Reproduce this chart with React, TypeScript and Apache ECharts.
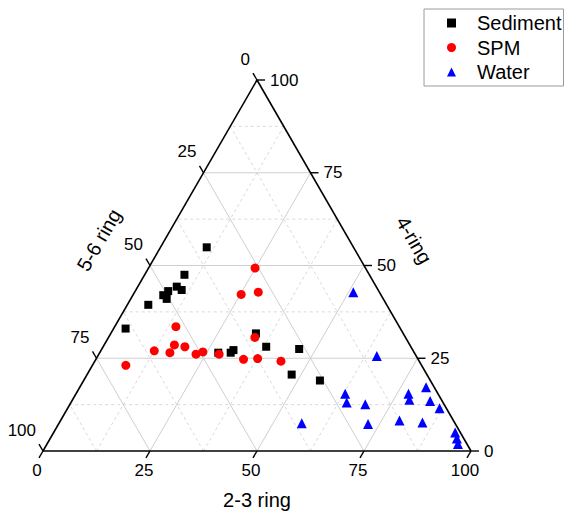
import React, { useEffect, useRef } from "react";
import * as echarts from "echarts";

// Ternary values: [2-3 ring, 4-ring, 5-6 ring] in %
const sediment: number[][] = [
  [10.8, 54.9, 34.3], [9.3, 47.5, 43.2], [9.1, 44.3, 46.6], [10.7, 43.4, 45.9],
  [7.7, 43.1, 49.2], [7.1, 42.0, 50.9], [8.4, 41.0, 50.6], [4.9, 39.4, 55.7],
  [2.8, 33.0, 64.2], [27.7, 26.5, 45.8], [30.6, 26.5, 42.9], [30.9, 27.2, 41.9],
  [33.9, 31.7, 34.4], [38.1, 28.1, 33.8], [46.1, 27.5, 26.4], [47.8, 20.6, 31.6],
  [55.2, 19.0, 25.8],
];
const spm: number[][] = [
  [24.9, 49.3, 25.8], [25.2, 42.2, 32.6], [28.9, 42.8, 28.3], [14.3, 33.5, 52.2],
  [16.4, 28.6, 55.0], [19.1, 28.1, 52.8], [12.5, 27.0, 60.5], [16.4, 26.5, 57.1],
  [22.7, 26.1, 51.2], [24.0, 26.7, 49.3], [7.8, 23.1, 69.1], [28.1, 26.1, 45.8],
  [34.5, 24.7, 40.8], [37.7, 24.9, 37.4], [34.2, 30.6, 35.2], [43.5, 24.2, 32.3],
];
const water: number[][] = [
  [51.1, 42.8, 6.1], [65.2, 25.6, 9.2], [80.9, 17.2, 1.9], [77.7, 15.4, 6.9],
  [78.7, 13.8, 7.5], [83.7, 13.5, 2.8], [86.9, 11.5, 1.6], [62.9, 15.4, 21.7],
  [64.4, 13.1, 22.5], [69.0, 12.6, 18.4], [79.2, 8.2, 12.6], [84.8, 7.7, 7.5],
  [72.3, 7.3, 20.4], [56.7, 7.5, 35.8], [93.8, 5.0, 1.2], [95.0, 3.4, 1.6],
  [96.0, 1.9, 2.1],
];

const tickValues = [0, 25, 50, 75, 100];
const majorGrid = [25, 50, 75];
const minorGrid = [12.5, 37.5, 62.5, 87.5];
const axisTitles = ["2-3 ring", "4-ring", "5-6 ring"];
const seriesNames = ["Sediment", "SPM", "Water"];

const SQ = Math.sqrt(3) / 2;
const toXY = (a: number, b: number, c: number) => {
  const s = a + b + c;
  const A = (a / s) * 100;
  const B = (b / s) * 100;
  return [A + B / 2, B * SQ];
};

function gridSegments(vals: number[]) {
  const segs: number[][] = [];
  vals.forEach((v) => {
    const h1 = toXY(100 - v, v, 0);
    const h2 = toXY(0, v, 100 - v);
    segs.push([h1[0], h1[1], h2[0], h2[1]]);
    const a1 = toXY(v, 0, 100 - v);
    const a2 = toXY(v, 100 - v, 0);
    segs.push([a1[0], a1[1], a2[0], a2[1]]);
    const c1 = toXY(100 - v, 0, v);
    const c2 = toXY(0, 100 - v, v);
    segs.push([c1[0], c1[1], c2[0], c2[1]]);
  });
  return segs;
}

function edgeSegments() {
  const A = toXY(0, 0, 100);
  const B = toXY(100, 0, 0);
  const C = toXY(0, 100, 0);
  return [
    [A[0], A[1], B[0], B[1]],
    [B[0], B[1], C[0], C[1]],
    [C[0], C[1], A[0], A[1]],
  ];
}

function tickData() {
  const d: number[][] = [];
  tickValues.forEach((v) => {
    const p0 = toXY(v, 0, 100 - v);
    d.push([p0[0], p0[1], 0, v]);
    const p1 = toXY(100 - v, v, 0);
    d.push([p1[0], p1[1], 1, v]);
    const p2 = toXY(0, 100 - v, v);
    d.push([p2[0], p2[1], 2, v]);
  });
  return d;
}

const segRender = (stroke: string, lineWidth: number, dash?: number[]) =>
  (params: any, api: any) => {
    const p1 = api.coord([api.value(0), api.value(1)]);
    const p2 = api.coord([api.value(2), api.value(3)]);
    return {
      type: "line",
      shape: { x1: p1[0], y1: p1[1], x2: p2[0], y2: p2[1] },
      style: { stroke, lineWidth, lineDash: dash || null, fill: null },
    };
  };

const FONT = "'Liberation Sans', Arial, sans-serif";
const TICK_LEN = 8;

export default function App() {
  const ref = useRef<HTMLDivElement>(null);
  useEffect(() => {
    if (!ref.current) return;
    const chart = echarts.init(ref.current, null, { renderer: "svg" });
    const option: any = {
      animation: false,
      backgroundColor: "#ffffff",
      grid: { left: 43, top: 80, width: 428, height: 371 },
      xAxis: { type: "value", min: 0, max: 100, show: false },
      yAxis: { type: "value", min: 0, max: 100 * SQ, show: false },
      legend: {
        orient: "vertical",
        left: 424,
        top: 9,
        data: seriesNames,
        itemWidth: 9,
        itemHeight: 9,
        itemGap: 4.5,
        padding: [4, 2, 4, 23],
        borderColor: "#9a9a9a",
        borderWidth: 1,
        textStyle: {
          fontSize: 20,
          lineHeight: 20,
          color: "#000",
          fontFamily: FONT,
          padding: [0, 0, 0, 16],
        },
      },
      graphic: [
        {
          type: "text",
          x: 257,
          y: 500,
          style: {
            text: axisTitles[0],
            fontSize: 20,
            fontFamily: FONT,
            fill: "#000",
            textAlign: "center",
            textVerticalAlign: "middle",
          },
        },
        {
          type: "text",
          x: 414,
          y: 240,
          rotation: -Math.PI / 3,
          style: {
            text: axisTitles[1],
            fontSize: 20,
            fontFamily: FONT,
            fill: "#000",
            textAlign: "center",
            textVerticalAlign: "middle",
          },
        },
        {
          type: "text",
          x: 99,
          y: 240,
          rotation: Math.PI / 3,
          style: {
            text: axisTitles[2],
            fontSize: 20,
            fontFamily: FONT,
            fill: "#000",
            textAlign: "center",
            textVerticalAlign: "middle",
          },
        },
      ],
      series: [
        {
          name: "minorGrid",
          type: "custom",
          silent: true,
          z: 1,
          data: gridSegments(minorGrid),
          renderItem: segRender("#d9d9d9", 1, [3, 3]),
        },
        {
          name: "majorGrid",
          type: "custom",
          silent: true,
          z: 2,
          data: gridSegments(majorGrid),
          renderItem: segRender("#cfcfcf", 1),
        },
        {
          name: "edges",
          type: "custom",
          silent: true,
          z: 3,
          data: edgeSegments(),
          renderItem: segRender("#000", 1.6),
        },
        {
          name: "ticks",
          type: "custom",
          silent: true,
          z: 3,
          data: tickData(),
          renderItem: (params: any, api: any) => {
            const p = api.coord([api.value(0), api.value(1)]);
            const axis = api.value(2);
            const v = api.value(3);
            let dx = 0, dy = 0, lx = 0, ly = 0;
            let align = "center";
            if (axis === 0) {
              dx = -0.5; dy = SQ;
              lx = p[0] - 6; ly = p[1] + 19;
              align = "center";
            } else if (axis === 1) {
              dx = 1; dy = 0;
              lx = p[0] + 13; ly = p[1];
              align = "left";
            } else {
              dx = -0.5; dy = -SQ;
              lx = p[0] - 7; ly = p[1] - 21;
              align = "right";
            }
            return {
              type: "group",
              children: [
                {
                  type: "line",
                  shape: {
                    x1: p[0], y1: p[1],
                    x2: p[0] + dx * TICK_LEN, y2: p[1] + dy * TICK_LEN,
                  },
                  style: { stroke: "#000", lineWidth: 1.4 },
                },
                {
                  type: "text",
                  x: lx,
                  y: ly,
                  style: {
                    text: String(v),
                    fontSize: 17,
                    fontFamily: FONT,
                    fill: "#000",
                    textAlign: align,
                    textVerticalAlign: "middle",
                  },
                },
              ],
            };
          },
        },
        {
          name: "Sediment",
          type: "scatter",
          symbol: "rect",
          symbolSize: 8,
          z: 5,
          itemStyle: { color: "#000000", opacity: 1 },
          data: sediment.map((d) => toXY(d[0], d[1], d[2])),
        },
        {
          name: "SPM",
          type: "scatter",
          symbol: "circle",
          symbolSize: 9,
          z: 6,
          itemStyle: { color: "#ff0000", opacity: 1 },
          data: spm.map((d) => toXY(d[0], d[1], d[2])),
        },
        {
          name: "Water",
          type: "scatter",
          symbol: "triangle",
          symbolSize: 10,
          z: 5,
          itemStyle: { color: "#0000ff", opacity: 1 },
          data: water.map((d) => toXY(d[0], d[1], d[2])),
        },
      ],
    };
    chart.setOption(option);
    return () => chart.dispose();
  }, []);
  return (
    <div
      ref={ref}
      style={{ position: "absolute", left: 0, top: 0, width: 565, height: 514 }}
    />
  );
}
